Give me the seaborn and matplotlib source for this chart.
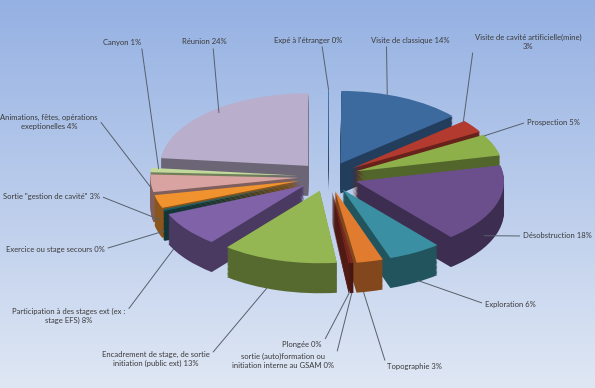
# Répartition des activités - camembert 3D éclaté (style Excel)

import numpy as np
import matplotlib
matplotlib.use("Agg")
import matplotlib.pyplot as plt
from matplotlib.colors import LinearSegmentedColormap
import seaborn as sns

# ── Données ───────────────────────────────────────────────────
categories = [
    "Expé à l'étranger",
    "Visite de classique",
    "Visite de cavité artificielle(mine)\n",
    "Prospection",
    "Désobstruction",
    "Exploration",
    "Topographie",
    "sortie (auto)formation ou\ninitiation interne au GSAM",
    "Plongée",
    "Encadrement de stage, de sortie\ninitiation (public ext)",
    "Participation à des stages ext (ex :\nstage EFS)",
    "Exercice ou stage secours",
    "Sortie \"gestion de cavité\"",
    "Animations, fêtes, opérations\nexeptionelles",
    "Canyon",
    "Réunion",
]
values = [0.1, 14, 3, 5, 18, 6, 3, 0.4, 0.1, 13, 8, 0.4, 3, 4, 1, 24]
top_colors = ["#4F81BD", "#3D6A9E", "#B23A2E", "#8DB04A", "#6A4F8C", "#3A90A2",
              "#E07B30", "#7A2A20", "#8E2E24", "#94B653", "#7F62A8", "#1E5C63",
              "#F0922E", "#D9A3A2", "#C3D99C", "#B9AECC"]

# ── Mise en page (pixels, origine en haut à gauche) ───────────
W, H = 595, 388
cx, cy, rx, ry = 328, 176.7, 148, 72.6
depth_px = 30
label_xy = [(308, 40), (410, 40), (528, 42), (527, 122), (523, 236), (485, 304),
            (387, 367), (283, 361), (322, 345), (156, 359), (69, 316), (6, 249),
            (3, 196), (49, 122), (122, 42), (204, 42)]
label_ha = ["center", "center", "center", "left", "left", "left", "left", "center",
            "right", "center", "center", "left", "left", "center", "center", "center"]
label_rel = [(0.7, 0), (0.2, 0), (0, 0.75), (0, 0.5), (0, 0.5), (0, 0.5), (0, 0.5),
             (1, 0.3), (1, 0.5), (1, 0.7), (1, 0.7), (1, 0.5), (1, 0.5), (1, 0.75),
             (1, 0.35), (0.7, 0)]
# point d'accroche sur la part : position angulaire, rayon, profondeur
anchor_t = [0.5, 0.37, 0.07, 0.05, 0.68, 0.42, 0.74, 0.5, 0.5, 0.61, 0.84, 0.5,
            0.25, 0.8, 0.9, 0.53]
anchor_r = [1.0, 1.0, 0.98, 1.0, 1.0, 0.98, 1.0, 1.0, 1.0, 1.0, 1.0, 1.0, 1.0,
            1.0, 0.95, 0.95]
anchor_d = [0, 0, 0, 0, 0.6, 1, 1, 1, 1, 1, 1, 0.7, 0.5, 0.3, 0, 0]

sns.set_theme(style="white")
plt.rcParams["font.family"] = ["Lato", "DejaVu Sans"]

fig = plt.figure(figsize=(W / 100, H / 100), dpi=100)

# fond dégradé
bg = fig.add_axes([0, 0, 1, 1])
cmap = LinearSegmentedColormap.from_list("bg", ["#95B1E3", "#DFE7F4"])
bg.imshow(np.linspace(0, 1, 256)[:, None], aspect="auto", cmap=cmap,
          extent=[0, 1, 0, 1], origin="upper")
bg.axis("off")

ax = fig.add_axes([0, 0, 1, 1])
ax.patch.set_alpha(0)

pal = sns.color_palette(top_colors)
side = [tuple(np.array(c) * 0.58) for c in pal]
explode = [0.2] * len(values)

# ordre de dessin : de l'arrière vers l'avant
share = np.array(values) / sum(values)
mid = (np.cumsum(share) - share / 2) * 360
rank = np.argsort(np.argsort(-np.cos(np.radians(mid))))

n_layers = 24
depth = depth_px / ry
for k in range(n_layers, 0, -1):
    wedges, _ = ax.pie(values, colors=side, startangle=90, counterclock=False,
                       explode=explode, center=(0, -depth * k / n_layers),
                       wedgeprops=dict(linewidth=0))
    for i, w in enumerate(wedges):
        w.set_zorder(10 + rank[i] * 100 + (n_layers - k))
tops, _ = ax.pie(values, colors=pal, startangle=90, counterclock=False,
                 explode=explode, center=(0, 0), wedgeprops=dict(linewidth=0))
for i, w in enumerate(tops):
    w.set_zorder(10 + rank[i] * 100 + 99)

ax.set_aspect("auto")
ax.set_xlim(-cx / rx, (W - cx) / rx)
ax.set_ylim(-(H - cy) / ry, cy / ry)
ax.axis("off")

# ── Étiquettes + lignes de rappel ─────────────────────────────
for i, w in enumerate(tops):
    # la part tourne dans le sens horaire : theta2 -> theta1
    a = np.radians(w.theta2 - anchor_t[i] * (w.theta2 - w.theta1))
    x0, y0 = w.center
    anchor = (x0 + anchor_r[i] * w.r * np.cos(a),
              y0 + anchor_r[i] * w.r * np.sin(a) - anchor_d[i] * depth)
    if categories[i].endswith("\n"):
        txt = f"{categories[i]}{round(values[i])}%"
    else:
        txt = f"{categories[i]} {round(values[i])}%"
    lx, ly = label_xy[i]
    ax.annotate(txt, xy=anchor, xytext=(lx / W, 1 - ly / H), textcoords="figure fraction",
                ha=label_ha[i], va="center", fontsize=5.5, color="#3a3a3a",
                multialignment="center", zorder=5000,
                arrowprops=dict(arrowstyle="-", color="#56606b", lw=0.7,
                                shrinkA=0, shrinkB=0, relpos=label_rel[i]))

plt.savefig("out.png", dpi=100)
